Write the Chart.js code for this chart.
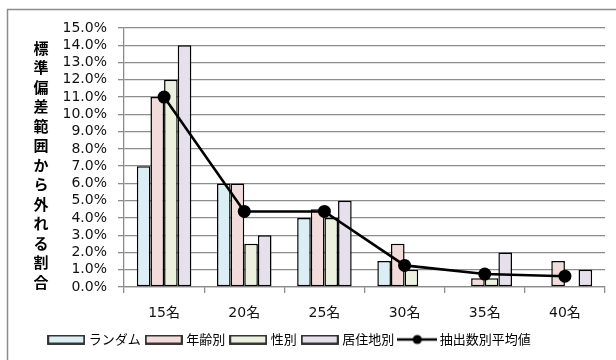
<!DOCTYPE html>
<html>
<head>
<meta charset="utf-8">
<script src="https://cdn.jsdelivr.net/npm/chart.js@4"></script>
<style>
  html, body { margin: 0; padding: 0; background: #fff; }
  #wrap { position: relative; width: 616px; height: 360px; }
</style>
</head>
<body>
<div id="wrap"><canvas id="c" width="616" height="360"></canvas></div>
<script>
// Sample sizes (x categories)
const categories = ['15名', '20名', '25名', '30名', '35名', '40名'];

// Share of cases falling outside the standard-deviation range (%)
const randomVals = [7.0, 6.0, 4.0, 1.5, 0.0, 0.0];
const ageVals    = [11.0, 6.0, 4.5, 2.5, 0.5, 1.5];
const sexVals    = [12.0, 2.5, 4.0, 1.0, 0.5, 0.0];
const areaVals   = [14.0, 3.0, 5.0, 0.0, 2.0, 1.0];
const meanVals   = [11.0, 4.375, 4.375, 1.25, 0.75, 0.625];

const seriesNames = ['ランダム', '年齢別', '性別', '居住地別', '抽出数別平均値'];
const yTitle = '標準偏差範囲から外れる割合';

const yMin = 0, yMax = 15, yStep = 1;

const FONT = "'DejaVu Sans', 'Noto Sans CJK JP', sans-serif";
const JFONT = "'Noto Sans CJK JP', sans-serif";

const fills = ['#DBEEF4', '#F2DCDB', '#EBF1DE', '#E5E0EC'];

// Legend swatches drawn onto small canvases
function barSwatch(color) {
  const c = document.createElement('canvas');
  c.width = 38; c.height = 10;
  const g = c.getContext('2d');
  g.fillStyle = color;
  g.fillRect(1, 1, 36, 8);
  g.strokeStyle = '#222';
  g.lineWidth = 1.8;
  g.strokeRect(1, 1, 36, 8);
  return c;
}
function lineSwatch() {
  const c = document.createElement('canvas');
  c.width = 40; c.height = 12;
  const g = c.getContext('2d');
  g.strokeStyle = '#000';
  g.lineWidth = 2.4;
  g.beginPath(); g.moveTo(0, 6); g.lineTo(40, 6); g.stroke();
  g.fillStyle = '#000';
  g.beginPath(); g.arc(20, 6, 4.6, 0, Math.PI * 2); g.fill();
  return c;
}

const swatches = [barSwatch(fills[0]), barSwatch(fills[1]), barSwatch(fills[2]), barSwatch(fills[3]), lineSwatch()];

// Frame around the whole chart, plus the stacked vertical axis title
const framePlugin = {
  id: 'frame',
  beforeDraw(chart) {
    const ctx = chart.ctx;
    ctx.save();
    ctx.fillStyle = '#fff';
    ctx.fillRect(0, 0, chart.width, chart.height);
    ctx.strokeStyle = '#8c8c8c';
    ctx.lineWidth = 1.5;
    ctx.beginPath();
    ctx.moveTo(7.5, chart.height);
    ctx.lineTo(7.5, 9.5);
    ctx.lineTo(chart.width, 9.5);
    ctx.stroke();
    ctx.restore();
  },
  afterDraw(chart) {
    const ctx = chart.ctx;
    ctx.save();
    ctx.fillStyle = '#000';
    ctx.font = "bold 15px " + JFONT;
    ctx.textAlign = 'center';
    ctx.textBaseline = 'middle';
    const chars = Array.from(yTitle);
    const top = 48, step = 19.5;
    chars.forEach((ch, i) => ctx.fillText(ch, 41, top + i * step));
    ctx.restore();
  }
};

// Shift the bottom legend so it sits left of centre
const legendShift = {
  id: 'legendShift',
  afterLayout(chart) {
    const lg = chart.legend;
    if (lg) { lg.left -= 12; lg.right -= 12; }
  }
};

const barDs = (label, data, i) => ({
  type: 'bar',
  label,
  data,
  backgroundColor: fills[i],
  borderColor: '#000',
  borderWidth: 1.5,
  borderSkipped: false,
  order: 2,
  categoryPercentage: 0.68,
  barPercentage: 1.0
});

new Chart(document.getElementById('c'), {
  data: {
    labels: categories,
    datasets: [
      barDs(seriesNames[0], randomVals, 0),
      barDs(seriesNames[1], ageVals, 1),
      barDs(seriesNames[2], sexVals, 2),
      barDs(seriesNames[3], areaVals, 3),
      {
        type: 'line',
        label: seriesNames[4],
        data: meanVals,
        borderColor: '#000',
        backgroundColor: '#000',
        borderWidth: 2.6,
        pointRadius: 6.5,
        pointHoverRadius: 6.5,
        pointBackgroundColor: '#000',
        pointBorderWidth: 0,
        tension: 0,
        order: 1
      }
    ]
  },
  options: {
    responsive: false,
    animation: false,
    events: [],
    layout: { padding: { left: 0, right: 11, top: 28, bottom: 4 } },
    plugins: {
      tooltip: { enabled: false },
      legend: {
        position: 'bottom',
        labels: {
          usePointStyle: true,
          pointStyleWidth: 32,
          boxHeight: 10,
          padding: 7,
          color: '#111',
          font: { family: JFONT, size: 13 },
          generateLabels(chart) {
            return chart.data.datasets.map((ds, i) => ({
              text: ds.label,
              pointStyle: swatches[i],
              fillStyle: 'transparent',
              strokeStyle: 'transparent',
              lineWidth: 0,
              hidden: false,
              datasetIndex: i
            }));
          }
        }
      }
    },
    scales: {
      x: {
        offset: true,
        afterFit(scale) { scale.height = 39; },
        grid: {
          offset: true,
          drawOnChartArea: false,
          drawTicks: true,
          tickLength: 6,
          color: '#8c8c8c',
          lineWidth: 1.3
        },
        border: { color: '#8c8c8c', width: 1.3 },
        ticks: {
          color: '#111',
          padding: 12,
          font: { family: FONT, size: 14 }
        }
      },
      y: {
        min: yMin,
        max: yMax,
        afterFit(scale) { scale.width = 124; },
        grid: {
          color: '#8c8c8c',
          lineWidth: 1.3,
          tickLength: 6
        },
        border: { color: '#8c8c8c', width: 1.3 },
        ticks: {
          stepSize: yStep,
          autoSkip: false,
          color: '#111',
          padding: 11,
          font: { family: FONT, size: 14 },
          callback: v => v.toFixed(1) + '%'
        }
      }
    }
  },
  plugins: [framePlugin, legendShift]
});
</script>
</body>
</html>
